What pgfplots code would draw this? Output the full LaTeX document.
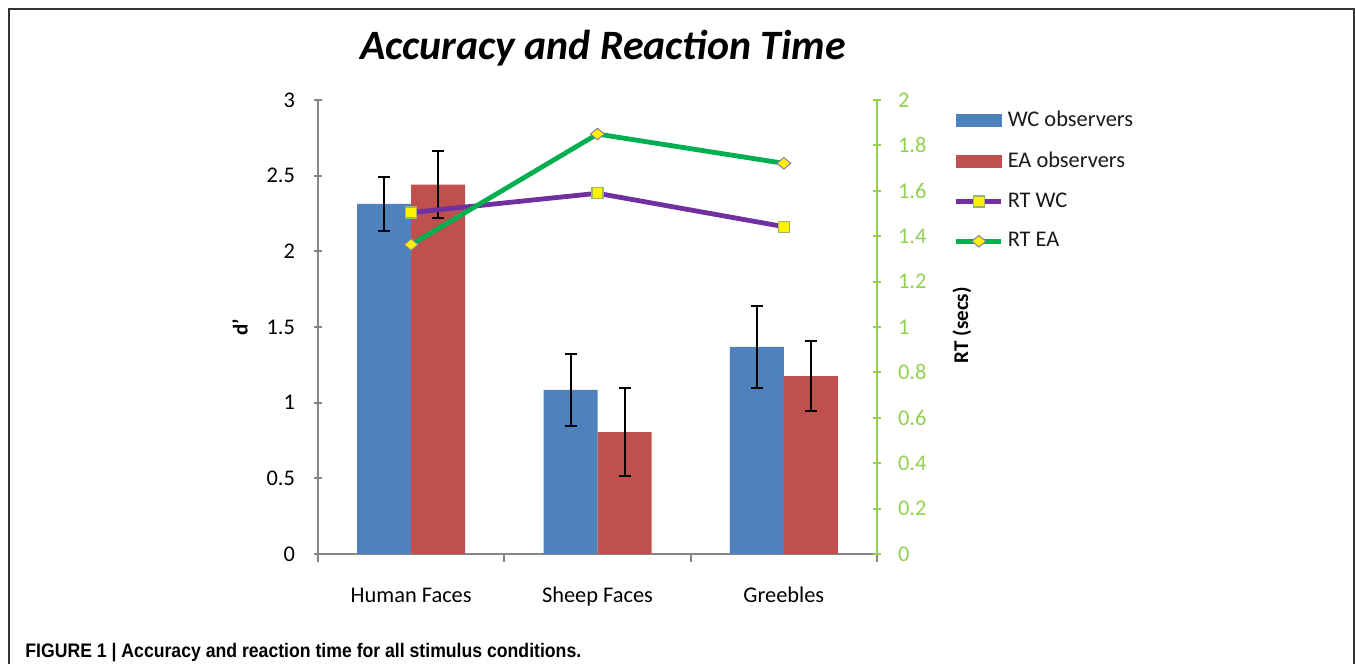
\documentclass[border=0pt]{standalone}
\usepackage{pgfplots}
\pgfplotsset{compat=1.18}
\usepackage{fontspec}
\setmainfont{Carlito}
\newfontfamily\capfont{Liberation Sans}

\definecolor{wcblue}{HTML}{4F81BD}
\definecolor{eared}{HTML}{C0504D}
\definecolor{rtpurple}{HTML}{7030A0}
\definecolor{rtgreen}{HTML}{00B050}
\definecolor{axgreen}{HTML}{92D050}
\definecolor{axgray}{HTML}{868686}
\definecolor{sqedge}{HTML}{9BBB59}
\definecolor{dmedge}{HTML}{8C7AA8}

\pgfplotsset{
  rtaxis/.style={
    at={(159pt,55pt)}, anchor=south west,
    scale only axis, width=279.5pt, height=227pt,
    xmin=-0.5, xmax=2.5,
    tick align=outside, major tick length=4pt,
    /pgf/number format/assume math mode=true,
    ticklabel style={font=\fontsize{11.2}{13}\selectfont},
  }
}

\begin{document}
\begin{tikzpicture}
\useasboundingbox (0pt,0pt) rectangle (677.5pt,332pt);
\draw[line width=0.8pt, black!80] (4.5pt,-2pt) -- (4.5pt,327.5pt) -- (677pt,327.5pt) -- (677pt,-2pt);

\node[anchor=base, font=\fontsize{20.9}{24}\selectfont\bfseries\itshape] at (301.5pt,302pt) {Accuracy and Reaction Time};
\node[anchor=base west, inner sep=0pt] at (12.5pt,3pt)
  {\scalebox{0.9}[1]{\capfont\fontsize{9.8}{11}\selectfont\bfseries FIGURE 1 | Accuracy and reaction time for all stimulus conditions.}};

% accuracy (d')
\begin{axis}[rtaxis,
  ymin=0, ymax=3,
  axis x line=bottom, axis y line=left,
  axis line style={axgray, line width=1pt, -},
  ytick={0,0.5,1,1.5,2,2.5,3},
  y tick style={axgray, line width=1pt},
  yticklabel style={xshift=-6pt},
  xtick={0,1,2}, xticklabels={Human Faces, Sheep Faces, Greebles},
  major x tick style={draw=none},
  minor xtick={-0.5,0.5,1.5,2.5}, minor tick length=4pt,
  minor x tick style={axgray, line width=1pt},
  xticklabel style={yshift=-8.5pt, text height=8pt, text depth=2.5pt},
  ylabel={d'},
  ylabel style={at={(rel axis cs:-0.1395,0.5)}, anchor=center,
    font=\fontsize{10.5}{12}\selectfont\bfseries},
  ybar=0pt, bar width=27pt,
  clip=false,
]
\addplot[fill=wcblue, draw=none,
  error bars/.cd, y dir=both, y explicit,
  error bar style={draw=black, line width=1pt},
  error mark options={draw=black, rotate=90, mark size=3pt, line width=1pt}]
  coordinates {(0,2.313) +- (0,0.18) (1,1.084) +- (0,0.24) (2,1.368) +- (0,0.27)};
\addplot[fill=eared, draw=none,
  error bars/.cd, y dir=both, y explicit,
  error bar style={draw=black, line width=1pt},
  error mark options={draw=black, rotate=90, mark size=3pt, line width=1pt}]
  coordinates {(0,2.441) +- (0,0.22) (1,0.806) +- (0,0.29) (2,1.176) +- (0,0.23)};
\end{axis}

% reaction time
\begin{axis}[rtaxis,
  ymin=0, ymax=2,
  axis x line=none, axis y line=right,
  axis line style={axgreen, line width=1pt, -},
  ytick={0,0.2,0.4,0.6,0.8,1,1.2,1.4,1.6,1.8,2},
  y tick style={axgreen, line width=1pt},
  yticklabel style={text=axgreen, xshift=5pt},
  ylabel={RT (secs)},
  ylabel style={at={(rel axis cs:1.152,0.504)}, anchor=center,
    font=\fontsize{10.5}{12}\selectfont\bfseries},
  clip=false,
  legend style={at={(rel axis cs:1.137,0.986)}, anchor=north west,
    draw=none, fill=none, font=\fontsize{11.2}{13}\selectfont,
    row sep=7.2pt, inner sep=0pt, nodes={text=black!90}},
  legend cell align=left,
  legend image code/.code={\draw[#1, mark repeat=2, mark phase=2]
    plot coordinates {(0pt,0pt) (11.25pt,0pt) (22.5pt,0pt)};},
]
\addlegendimage{legend image code/.code={\fill[wcblue] (0pt,-3pt) rectangle (22.5pt,3pt);}}
\addlegendimage{legend image code/.code={\fill[eared] (0pt,-3pt) rectangle (22.5pt,3pt);}}
\addplot[rtpurple, line width=2.4pt, mark=square*, mark size=2.75pt,
  mark options={fill=yellow, draw=sqedge, line width=0.6pt}]
  coordinates {(0,1.504) (1,1.589) (2,1.442)};
\addplot[rtgreen, line width=2.4pt, mark=diamond*, mark size=2.9pt,
  mark options={fill=yellow, draw=dmedge, line width=0.5pt, xscale=1.6}]
  coordinates {(0,1.363) (1,1.850) (2,1.721)};
\legend{WC observers, EA observers, RT WC, RT EA}
\end{axis}
\end{tikzpicture}
\end{document}
